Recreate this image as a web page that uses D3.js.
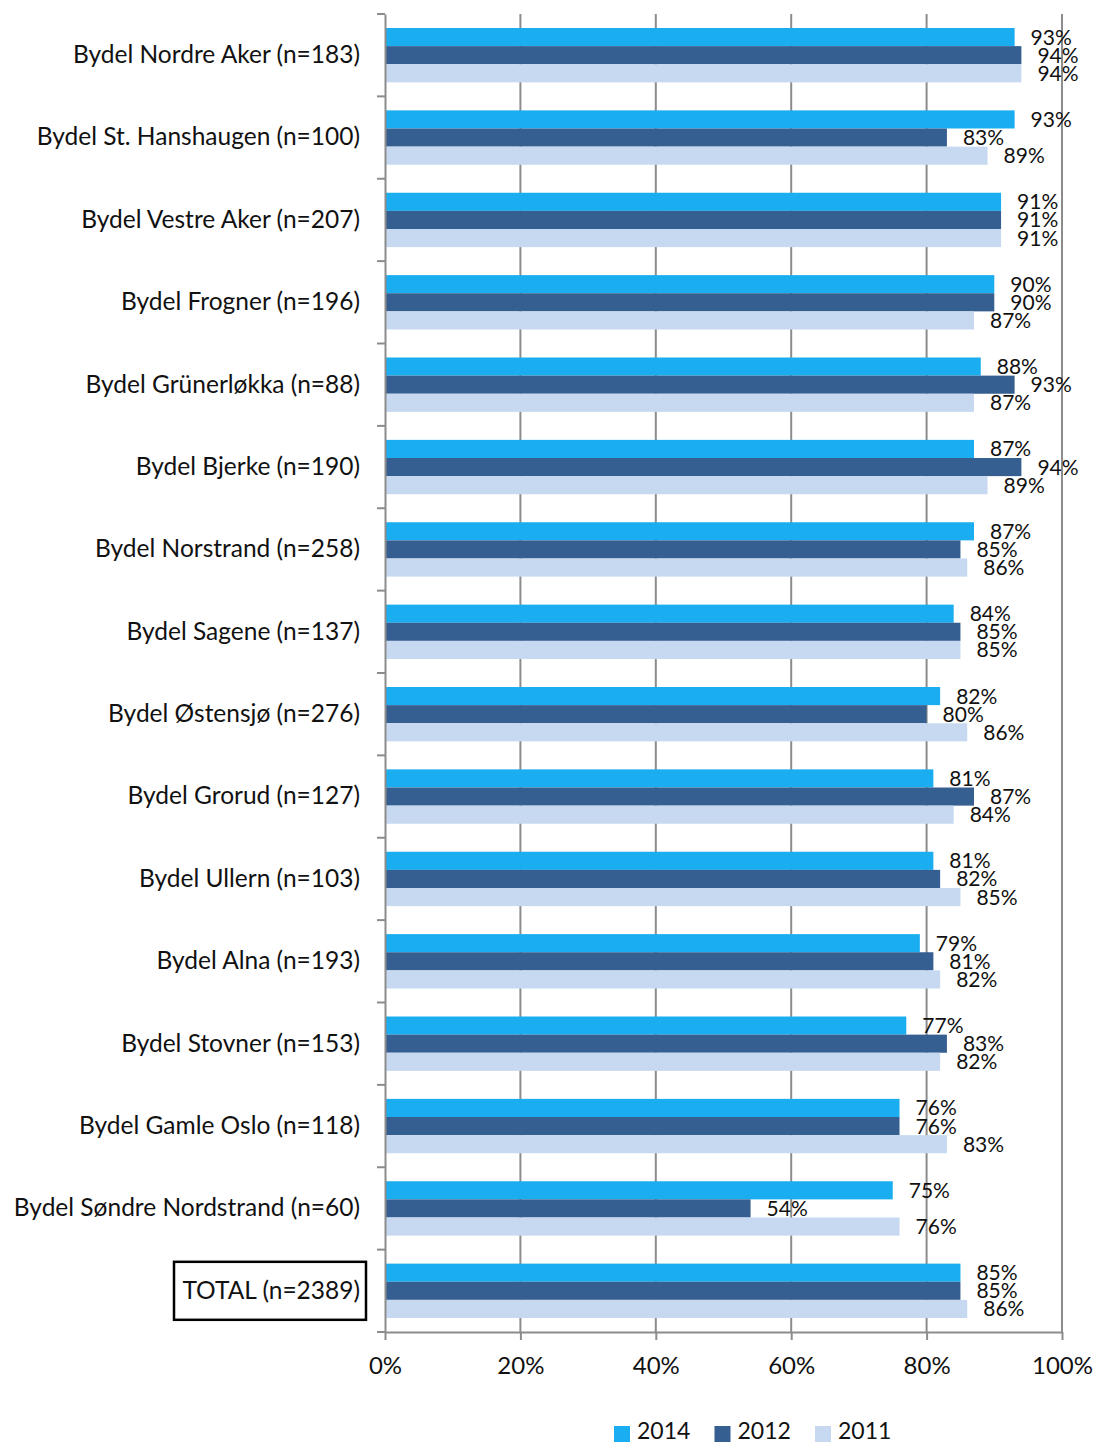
<!DOCTYPE html>
<html lang="en">
<head>
  <meta charset="UTF-8">
  <title>Bydeler</title>
  <script src="https://d3js.org/d3.v7.min.js"></script>
  <style>
    body { margin: 0; background: #fff; }
    text { font-family: Lato, "Open Sans", sans-serif; fill: #111; }
  </style>
</head>
<body>
  <script>
    const width = 1094, height = 1445;

    const categories = [
      'Bydel Nordre Aker (n=183)',
      'Bydel St. Hanshaugen (n=100)',
      'Bydel Vestre Aker (n=207)',
      'Bydel Frogner (n=196)',
      'Bydel Grünerløkka (n=88)',
      'Bydel Bjerke (n=190)',
      'Bydel Norstrand (n=258)',
      'Bydel Sagene (n=137)',
      'Bydel Østensjø (n=276)',
      'Bydel Grorud (n=127)',
      'Bydel Ullern (n=103)',
      'Bydel Alna (n=193)',
      'Bydel Stovner (n=153)',
      'Bydel Gamle Oslo (n=118)',
      'Bydel Søndre Nordstrand (n=60)',
      'TOTAL (n=2389)'
    ];
    const years = ['2014', '2012', '2011'];
    const v2014 = [93, 93, 91, 90, 88, 87, 87, 84, 82, 81, 81, 79, 77, 76, 75, 85];
    const v2012 = [94, 83, 91, 90, 93, 94, 85, 85, 80, 87, 82, 81, 83, 76, 54, 85];
    const v2011 = [94, 89, 91, 87, 87, 89, 86, 85, 86, 84, 85, 82, 82, 83, 76, 86];
    const xTicks = [0, 20, 40, 60, 80, 100];
    const colors = ['#1aadf0', '#365f91', '#c6d9f1'];

    const series = [v2014, v2012, v2011];
    const rows = categories.map((c, i) => ({ cat: c, vals: series.map(s => s[i]) }));

    const margin = { left: 385, right: 32, top: 14, bottom: 113 };
    const svg = d3.select('body').append('svg')
      .attr('width', width).attr('height', height);

    const x = d3.scaleLinear().domain([0, 100]).range([margin.left, width - margin.right]);
    const y = d3.scaleBand().domain(categories).range([margin.top, height - margin.bottom]);
    const inner = d3.scaleBand().domain(years).range([14, y.bandwidth() - 14]);

    // gridlines
    svg.append('g').selectAll('line').data(xTicks.slice(1)).join('line')
      .attr('x1', d => x(d)).attr('x2', d => x(d))
      .attr('y1', margin.top).attr('y2', height - margin.bottom)
      .attr('stroke', '#8c8c8c').attr('stroke-width', 2);

    // bars
    const grp = svg.append('g').selectAll('g').data(rows).join('g')
      .attr('transform', d => `translate(0, ${y(d.cat)})`);
    grp.selectAll('rect').data(d => d.vals.map((v, k) => ({ v, k }))).join('rect')
      .attr('x', x(0))
      .attr('y', d => inner(years[d.k]))
      .attr('width', d => x(d.v) - x(0))
      .attr('height', inner.bandwidth())
      .attr('fill', d => colors[d.k]);
    grp.selectAll('text').data(d => d.vals.map((v, k) => ({ v, k }))).join('text')
      .attr('x', d => x(d.v) + 16)
      .attr('y', d => inner(years[d.k]) + inner.bandwidth() / 2)
      .attr('dy', '0.36em')
      .style('font-size', '21px')
      .text(d => d.v + '%');

    // y axis
    const yAxis = d3.axisLeft(y).tickSize(0).tickPadding(25);
    const ya = svg.append('g').attr('transform', `translate(${x(0)},0)`).call(yAxis);
    ya.select('.domain').attr('stroke', '#8c8c8c').attr('stroke-width', 2);
    ya.selectAll('text').style('font-size', '24.5px').attr('fill', '#111');
    // boundary ticks
    svg.append('g').selectAll('line').data(d3.range(categories.length + 1)).join('line')
      .attr('x1', x(0) - 8).attr('x2', x(0))
      .attr('y1', i => margin.top + i * y.step()).attr('y2', i => margin.top + i * y.step())
      .attr('stroke', '#8c8c8c').attr('stroke-width', 2);

    // total box
    const tot = y('TOTAL (n=2389)') + y.bandwidth() / 2;
    svg.append('rect')
      .attr('x', 174).attr('y', tot - 29)
      .attr('width', 192).attr('height', 58)
      .attr('fill', 'none').attr('stroke', '#000').attr('stroke-width', 2.5);

    // x axis
    const xAxis = d3.axisBottom(x).tickValues(xTicks).tickFormat(d => d + '%')
      .tickSize(8).tickPadding(17).tickSizeOuter(0);
    const xa = svg.append('g').attr('transform', `translate(0,${height - margin.bottom})`).call(xAxis);
    xa.select('.domain').attr('stroke', '#8c8c8c').attr('stroke-width', 2);
    xa.selectAll('line').attr('stroke', '#8c8c8c').attr('stroke-width', 2);
    xa.selectAll('text').style('font-size', '24px').attr('fill', '#111');

    // legend
    const leg = svg.append('g').selectAll('g').data(years).join('g')
      .attr('transform', (d, i) => `translate(${614 + i * 100.5}, 1426)`);
    leg.append('rect').attr('width', 16).attr('height', 16).attr('fill', (d, i) => colors[i]);
    leg.append('text').attr('x', 23).attr('y', 13)
      .style('font-size', '23px').text(d => d);
  </script>
</body>
</html>
